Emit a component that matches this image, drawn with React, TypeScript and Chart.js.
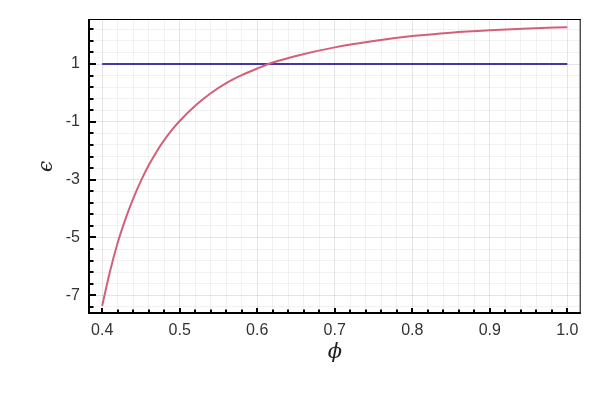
import React, { useEffect, useRef } from "react";
import { Chart, registerables } from "chart.js";

Chart.register(...registerables);

// Data
const phiValues = [0.40, 0.41, 0.42, 0.43, 0.44, 0.45, 0.46, 0.47, 0.48, 0.49, 0.50, 0.52, 0.54, 0.56, 0.58, 0.60, 0.62, 0.65, 0.70, 0.75, 0.80, 0.85, 0.90, 0.95, 1.00];
const epsValues = [-7.365, -6.185, -5.185, -4.365, -3.655, -3.04, -2.505, -2.04, -1.635, -1.28, -0.97, -0.44, -0.01, 0.34, 0.615, 0.845, 1.05, 1.28, 1.575, 1.795, 1.965, 2.085, 2.165, 2.225, 2.275];
const refPhi = [0.40, 1.00];
const refEps = [1, 1];

const xMajorTicks = [0.4, 0.5, 0.6, 0.7, 0.8, 0.9, 1.0];
const yMajorTicks = [-7, -5, -3, -1, 1];
const xTickLabels = ["0.4", "0.5", "0.6", "0.7", "0.8", "0.9", "1.0"];
const yTickLabels = ["-7", "-5", "-3", "-1", "1"];

const X_MIN = 0.383;
const X_MAX = 1.0173;
const Y_MIN = -7.647;
const Y_MAX = 2.557;

const xMinorStep = 0.02;
const yMinorStep = 0.4;

function isMajor(v: number, majors: number[]) {
  return majors.some((m) => Math.abs(m - v) < 1e-6);
}

function buildTicks(start: number, end: number, step: number) {
  const out: number[] = [];
  const n = Math.round((end - start) / step);
  for (let i = 0; i <= n; i++) out.push(Math.round((start + i * step) * 1000) / 1000);
  return out;
}

const framePlugin = {
  id: "framePlugin",
  afterDraw(chart: any) {
    const { ctx, chartArea } = chart;
    const { left, right, top, bottom } = chartArea;
    const xs = chart.scales.x;
    const ys = chart.scales.y;
    ctx.save();
    ctx.strokeStyle = "#000";
    ctx.lineWidth = 1;
    ctx.beginPath();
    ctx.moveTo(left, top + 0.5);
    ctx.lineTo(right, top + 0.5);
    ctx.moveTo(right - 0.5, top);
    ctx.lineTo(right - 0.5, bottom);
    ctx.stroke();
    ctx.lineWidth = 2;
    ctx.beginPath();
    ctx.moveTo(left, top);
    ctx.lineTo(left, bottom);
    ctx.moveTo(left - 1, bottom - 1);
    ctx.lineTo(right, bottom - 1);
    ctx.stroke();
    ctx.lineWidth = 2;
    ctx.beginPath();
    for (const v of buildTicks(-7.4, 2.2, yMinorStep)) {
      const py = Math.round(ys.getPixelForValue(v));
      const len = isMajor(v, yMajorTicks) ? 7 : 4.5;
      ctx.moveTo(left, py);
      ctx.lineTo(left + len, py);
    }
    for (const v of buildTicks(0.4, 1.0, xMinorStep)) {
      const px = Math.round(xs.getPixelForValue(v));
      const len = isMajor(v, xMajorTicks) ? 5 : 3.5;
      ctx.moveTo(px, bottom - 1);
      ctx.lineTo(px, bottom - 1 - len);
    }
    ctx.stroke();
    ctx.restore();
  },
};

export default function App() {
  const ref = useRef<HTMLCanvasElement | null>(null);
  useEffect(() => {
    if (!ref.current) return;
    const chart = new Chart(ref.current, {
      type: "line",
      data: {
        datasets: [
          {
            label: "eps",
            data: phiValues.map((x, i) => ({ x, y: epsValues[i] })),
            borderColor: "#d3607a",
            borderWidth: 2,
            pointRadius: 0,
            cubicInterpolationMode: "monotone",
            fill: false,
          },
          {
            label: "one",
            data: refPhi.map((x, i) => ({ x, y: refEps[i] })),
            borderColor: "#4338a0",
            borderWidth: 2,
            pointRadius: 0,
            fill: false,
          },
        ],
      },
      plugins: [framePlugin],
      options: {
        responsive: false,
        animation: false,
        layout: { padding: { left: 0, top: 19, right: 19.3, bottom: 0 } },
        plugins: { legend: { display: false }, tooltip: { enabled: false } },
        scales: {
          x: {
            type: "linear",
            min: X_MIN,
            max: X_MAX,
            afterBuildTicks: (scale: any) => {
              scale.ticks = buildTicks(0.4, 1.0, xMinorStep).map((v) => ({ value: v }));
            },
            afterFit: (scale: any) => {
              scale.height = 86;
            },
            border: { display: false },
            grid: {
              drawTicks: false,
              lineWidth: 1,
              color: (c: any) => (isMajor(c.tick?.value, xMajorTicks) ? "rgba(0,0,0,0.1)" : "rgba(0,0,0,0.05)"),
            },
            ticks: {
              autoSkip: false,
              maxRotation: 0,
              padding: 7,
              color: "#333",
              font: { family: "'Liberation Sans', Arial, sans-serif", size: 16 },
              callback: (v: any) => {
                const idx = xMajorTicks.findIndex((m) => Math.abs(m - Number(v)) < 1e-6);
                return idx >= 0 ? xTickLabels[idx] : "";
              },
            },
            title: {
              display: true,
              text: "ϕ",
              color: "#222",
              padding: { top: 0, bottom: 35 },
              font: { family: "'DejaVu Serif', serif", size: 21, style: "italic" },
            },
          },
          y: {
            type: "linear",
            min: Y_MIN,
            max: Y_MAX,
            afterBuildTicks: (scale: any) => {
              scale.ticks = buildTicks(-7.4, 2.2, yMinorStep).map((v) => ({ value: v }));
            },
            afterFit: (scale: any) => {
              scale.width = 89;
            },
            border: { display: false },
            grid: {
              drawTicks: false,
              lineWidth: 1,
              color: (c: any) => (isMajor(c.tick?.value, yMajorTicks) ? "rgba(0,0,0,0.1)" : "rgba(0,0,0,0.05)"),
            },
            ticks: {
              autoSkip: false,
              padding: 9,
              color: "#333",
              font: { family: "'Liberation Sans', Arial, sans-serif", size: 16 },
              callback: (v: any) => {
                const idx = yMajorTicks.findIndex((m) => Math.abs(m - Number(v)) < 1e-6);
                return idx >= 0 ? yTickLabels[idx] : "";
              },
            },
            title: {
              display: true,
              text: "ϵ",
              color: "#222",
              padding: { top: 35, bottom: 0 },
              font: { family: "'DejaVu Serif', serif", size: 20, style: "italic" },
            },
          },
        },
      },
    } as any);
    return () => chart.destroy();
  }, []);
  return (
    <div style={{ position: "fixed", left: 0, top: 0, width: 600, height: 400, background: "#fff" }}>
      <canvas ref={ref} width={600} height={400} />
    </div>
  );
}
